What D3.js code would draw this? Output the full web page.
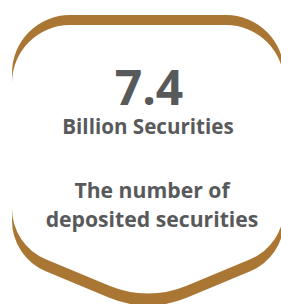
<!DOCTYPE html>
<html>
<head>
<meta charset="utf-8">
<script src="https://cdn.jsdelivr.net/npm/d3@7"></script>
<style>
  html, body { margin: 0; padding: 0; background: #ffffff; }
  svg { display: block; }
</style>
</head>
<body>
<svg id="chart" width="281" height="304"></svg>
<script>
// ---- data ----
const values = ["7.4"];
const units = ["Billion Securities"];
const labelLines = ["The number of", "deposited securities"];

// ---- layout ----
(function () {
  const svg = d3.select("#chart");
  const cx = 148;
  const xL = 12, xR = 284, yT = 25;
  const shoulderY = 245, tipY = 302;

  function badgePath() {
    const p = d3.path();
    p.moveTo(xL, 120);
    p.arcTo(xL, yT, cx, yT, 58);
    p.arcTo(xR, yT, xR, 120, 58);
    p.arcTo(xR, shoulderY, cx, tipY, 55);
    p.arcTo(cx, tipY, xL, shoulderY, 100);
    p.arcTo(xL, shoulderY, xL, 120, 55);
    p.closePath();
    return p.toString();
  }

  const brown = "#a97633";
  const d = badgePath();
  svg.append("path").attr("d", d).attr("fill", brown).attr("transform", "translate(0,-10)");
  svg.append("path").attr("d", d).attr("fill", brown).attr("transform", "translate(0,12)");
  svg.append("path").attr("d", d).attr("fill", "#ffffff");

  const grey = "#58595b";
  const font = "'Open Sans', sans-serif";

  svg.selectAll("text.value").data(values).join("text")
    .attr("class", "value")
    .attr("x", cx + 1).attr("y", 105)
    .attr("text-anchor", "middle")
    .attr("font-family", font).attr("font-weight", 700)
    .attr("font-size", 48).attr("fill", grey)
    .text(v => v);

  svg.selectAll("text.unit").data(units).join("text")
    .attr("class", "unit")
    .attr("x", cx).attr("y", 134)
    .attr("text-anchor", "middle")
    .attr("font-family", font).attr("font-weight", 700)
    .attr("font-size", 20.6).attr("fill", grey)
    .text(v => v);

  svg.selectAll("text.label").data(labelLines).join("text")
    .attr("class", "label")
    .attr("x", cx + 4).attr("y", (v, i) => 198 + i * 29)
    .attr("text-anchor", "middle")
    .attr("font-family", font).attr("font-weight", 700)
    .attr("font-size", 21.2).attr("fill", grey)
    .text(v => v);
})();
</script>
</body>
</html>
